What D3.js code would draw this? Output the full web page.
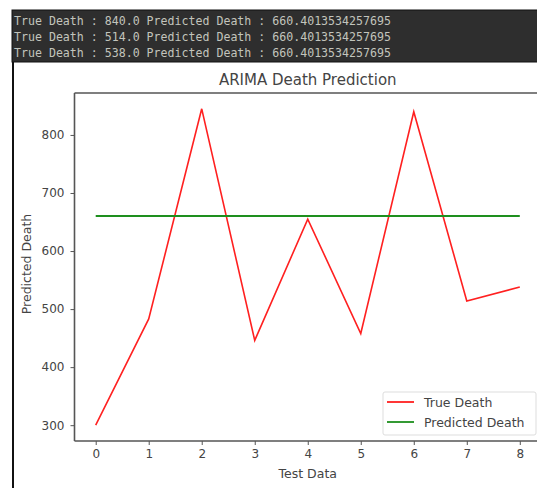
<html>
<head>
<script src="https://d3js.org/d3.v7.min.js"></script>
<style>
  body { margin: 0; background: white; }
  svg { display: block; }
</style>
</head>
<body>
<svg id="chart" width="537" height="488"></svg>
<script>
// values
const testIdx = [0, 1, 2, 3, 4, 5, 6, 7, 8];
const trueDeath = [300, 483, 845, 446, 655, 458, 840, 514, 538];
const predDeath = [660.4, 660.4, 660.4, 660.4, 660.4, 660.4, 660.4, 660.4, 660.4];
const yTicks = [300, 400, 500, 600, 700, 800];
const consoleLines = [
  "True Death : 840.0 Predicted Death : 660.4013534257695",
  "True Death : 514.0 Predicted Death : 660.4013534257695",
  "True Death : 538.0 Predicted Death : 660.4013534257695"
];
const seriesNames = ["True Death", "Predicted Death"];
const seriesColors = ["#ff2020", "#1e8f1e"];

const svg = d3.select("svg#chart");

// console strip on top
svg.append("rect").attr("x", 12).attr("y", 10).attr("width", 530).attr("height", 52)
  .attr("fill", "#2e2e2e").attr("stroke", "#111").attr("stroke-width", 1);
svg.selectAll("text.console").data(consoleLines).join("text")
  .attr("class", "console")
  .attr("x", 14)
  .attr("y", (d, i) => 25 + i * 16)
  .attr("font-family", "DejaVu Sans Mono")
  .attr("font-size", 11.6)
  .attr("fill", "#c2c4bc")
  .text(d => d);

// left border of the notebook cell
svg.append("rect").attr("x", 12).attr("y", 62).attr("width", 2).attr("height", 430).attr("fill", "#111");

const mLeft = 74.5, mRight = 541, mTop = 93, mBottom = 441;
const x = d3.scaleLinear().domain([-0.4, 8.4]).range([mLeft, mRight]);
const y = d3.scaleLinear().domain([272.75, 872.25]).range([mBottom, mTop]);

const font = "DejaVu Sans";
const axisCol = "#555";
const textCol = "#444";

// x axis
const xAxis = svg.append("g").attr("transform", `translate(0,${mBottom})`)
  .call(d3.axisBottom(x).tickValues(testIdx).tickSize(4).tickPadding(4).tickSizeOuter(0));
// y axis
const yAxis = svg.append("g").attr("transform", `translate(${mLeft},0)`)
  .call(d3.axisLeft(y).tickValues(yTicks).tickSize(4).tickPadding(6).tickSizeOuter(0));
[xAxis, yAxis].forEach(g => {
  g.select(".domain").remove();
  g.selectAll("line").attr("stroke", axisCol);
  g.selectAll("text").attr("font-family", font).attr("font-size", 12).attr("fill", textCol);
});

// spines
svg.append("line").attr("x1", mLeft).attr("x2", mLeft).attr("y1", mTop).attr("y2", mBottom)
  .attr("stroke", axisCol).attr("stroke-width", 1.6);
svg.append("line").attr("x1", mLeft).attr("x2", mRight).attr("y1", mBottom).attr("y2", mBottom)
  .attr("stroke", axisCol).attr("stroke-width", 1.6);
svg.append("line").attr("x1", mLeft).attr("x2", mRight).attr("y1", mTop).attr("y2", mTop)
  .attr("stroke", axisCol).attr("stroke-width", 1.6);

// lines
const line = d3.line().x((d, i) => x(testIdx[i])).y(d => y(d));
svg.append("path").datum(trueDeath).attr("d", line)
  .attr("fill", "none").attr("stroke", seriesColors[0]).attr("stroke-width", 1.6);
svg.append("path").datum(predDeath).attr("d", line)
  .attr("fill", "none").attr("stroke", seriesColors[1]).attr("stroke-width", 1.8);

// title and labels
svg.append("text").attr("x", (mLeft + mRight) / 2).attr("y", 85).attr("text-anchor", "middle")
  .attr("font-family", font).attr("font-size", 15).attr("fill", textCol).text("ARIMA Death Prediction");
svg.append("text").attr("x", (mLeft + mRight) / 2).attr("y", 478).attr("text-anchor", "middle")
  .attr("font-family", font).attr("font-size", 12.5).attr("fill", textCol).text("Test Data");
svg.append("text").attr("transform", `translate(31,264) rotate(-90)`)
  .attr("text-anchor", "middle")
  .attr("font-family", font).attr("font-size", 12.5).attr("fill", textCol).text("Predicted Death");

// legend
const lg = svg.append("g").attr("transform", "translate(383,392)");
lg.append("rect").attr("width", 153).attr("height", 43).attr("rx", 2)
  .attr("fill", "white").attr("fill-opacity", 0.8).attr("stroke", "#ddd");
seriesNames.forEach((name, i) => {
  lg.append("line").attr("x1", 4).attr("x2", 31).attr("y1", 10 + i * 20).attr("y2", 10 + i * 20)
    .attr("stroke", seriesColors[i]).attr("stroke-width", 1.8);
  lg.append("text").attr("x", 41).attr("y", 14.5 + i * 20)
    .attr("font-family", font).attr("font-size", 12.5).attr("fill", textCol).text(name);
});
</script>
</body>
</html>
